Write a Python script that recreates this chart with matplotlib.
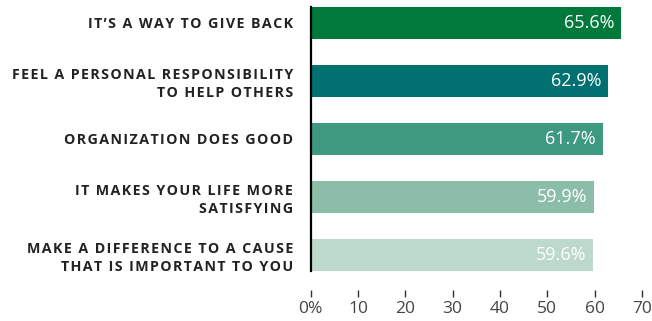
import matplotlib.pyplot as plt

categories = [
    "IT’S A WAY TO GIVE BACK",
    "FEEL A PERSONAL RESPONSIBILITY\nTO HELP OTHERS",
    "ORGANIZATION DOES GOOD",
    "IT MAKES YOUR LIFE MORE\nSATISFYING",
    "MAKE A DIFFERENCE TO A CAUSE\nTHAT IS IMPORTANT TO YOU",
]
values = [65.6, 62.9, 61.7, 59.9, 59.6]
colors = ["#00793a", "#007070", "#3d9980", "#8cbda9", "#bcd9cc"]
ticks = [0, 10, 20, 30, 40, 50, 60, 70]
tick_labels = ["0%", "10", "20", "30", "40", "50", "60", "70"]

plt.rcParams['font.family'] = ['Open Sans', 'DejaVu Sans']


def spaced(s):
    # letter-spacing with hair spaces
    return "\n".join("\u200a".join(line) for line in s.split("\n"))


W, H = 652, 321
fig = plt.figure(figsize=(W / 100, H / 100), dpi=100)
ax = fig.add_axes([310.7 / W, (H - 290) / H, (642 - 310.7) / W, (290 - 7) / H])

y = list(range(len(categories)))
ax.barh(y, values, height=0.55, color=colors, zorder=2)
ax.set_xlim(0, 70)
ax.set_ylim(4.607, -0.275)

for yi, v in zip(y, values):
    ax.text(v - 1.4, yi, f"{v}%", ha='right', va='center', color='white',
            fontsize=13, zorder=3)

ax.set_yticks(y)
ax.set_yticklabels([spaced(c) for c in categories], fontsize=10.3,
                   fontweight='bold', color='#222222', linespacing=1.3)
ax.tick_params(axis='y', length=0, pad=12.5)
ax.set_xticks(ticks)
ax.set_xticklabels(tick_labels, fontsize=12.5, color='#444444')
ax.tick_params(axis='x', length=5, width=1, color='#333333', pad=3)

for s in ['top', 'right', 'bottom']:
    ax.spines[s].set_visible(False)
ax.spines['left'].set_linewidth(1.6)
ax.spines['left'].set_color('black')
ax.spines['left'].set_bounds(-0.275, 4.275)
ax.spines['left'].set_zorder(4)

fig.savefig('out.png', dpi=100)
